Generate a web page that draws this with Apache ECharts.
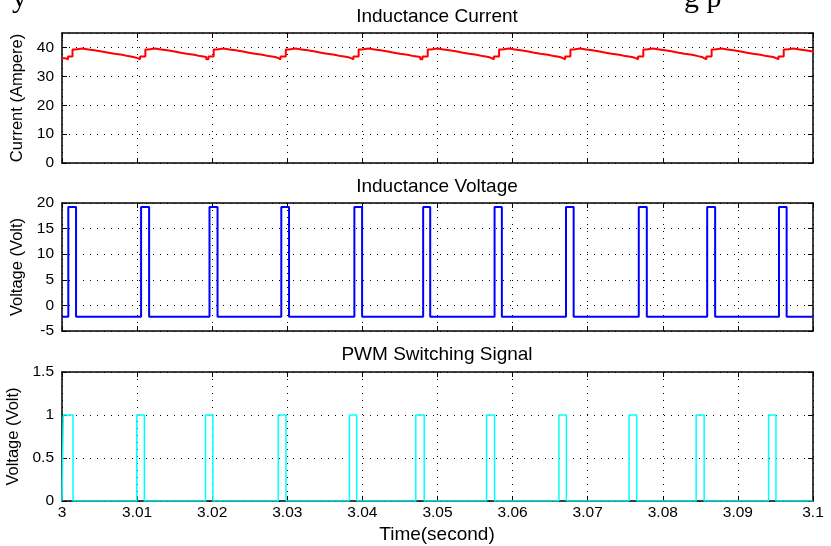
<!DOCTYPE html>
<html>
<head>
<meta charset="utf-8">
<script src="https://cdn.jsdelivr.net/npm/echarts@6/dist/echarts.min.js"></script>
<style>
html, body { margin: 0; padding: 0; background: #fff; }
#main { width: 831px; height: 546px; }
</style>
</head>
<body>
<div id="main"></div>
<script>
// time window (s)
const timeMin = 3.0, timeMax = 3.1, timeStep = 0.01

// inductance current, sampled staircase [time, ampere]
const currentData = [
    [3.0000, 36.3], [3.0004, 35.9], [3.0008, 36.9], [3.0014, 39.3], [3.0018, 39.6], [3.0027, 39.3], [3.0035, 39.0], [3.0043, 38.6], [3.0053, 38.2], [3.0062, 37.8], [3.0070, 37.5], [3.0080, 37.0], [3.0088, 36.7], [3.0095, 36.3],
    [3.0101, 35.9], [3.0104, 36.9], [3.0111, 39.3], [3.0115, 39.6], [3.0124, 39.3], [3.0132, 39.0], [3.0140, 38.6], [3.0150, 38.2], [3.0158, 37.8], [3.0166, 37.5], [3.0176, 37.0], [3.0184, 36.7],
    [3.0192, 35.9], [3.0195, 36.9], [3.0202, 39.3], [3.0206, 39.6], [3.0215, 39.3], [3.0223, 39.0], [3.0231, 38.6], [3.0241, 38.2], [3.0249, 37.8], [3.0257, 37.5], [3.0267, 37.0], [3.0275, 36.7], [3.0284, 36.3],
    [3.0288, 35.9], [3.0291, 36.9], [3.0298, 39.3], [3.0302, 39.6], [3.0311, 39.3], [3.0319, 39.0], [3.0327, 38.6], [3.0337, 38.2], [3.0345, 37.8], [3.0353, 37.5], [3.0363, 37.0], [3.0371, 36.7], [3.0380, 36.3],
    [3.0385, 35.9], [3.0388, 36.9], [3.0395, 39.3], [3.0399, 39.6], [3.0408, 39.3], [3.0416, 39.0], [3.0424, 38.6], [3.0434, 38.2], [3.0442, 37.8], [3.0450, 37.5], [3.0460, 37.0], [3.0468, 36.7],
    [3.0477, 35.9], [3.0480, 36.9], [3.0487, 39.3], [3.0491, 39.6], [3.0500, 39.3], [3.0508, 39.0], [3.0516, 38.6], [3.0526, 38.2], [3.0534, 37.8], [3.0542, 37.5], [3.0552, 37.0], [3.0560, 36.7], [3.0568, 36.3],
    [3.0572, 35.9], [3.0575, 36.9], [3.0582, 39.3], [3.0586, 39.6], [3.0595, 39.3], [3.0603, 39.0], [3.0611, 38.6], [3.0621, 38.2], [3.0629, 37.8], [3.0637, 37.5], [3.0647, 37.0], [3.0655, 36.7], [3.0663, 36.3],
    [3.0667, 35.9], [3.0670, 36.9], [3.0677, 39.3], [3.0681, 39.6], [3.0690, 39.3], [3.0698, 39.0], [3.0706, 38.6], [3.0716, 38.2], [3.0724, 37.8], [3.0732, 37.5], [3.0742, 37.0], [3.0750, 36.7], [3.0759, 36.3],
    [3.0764, 35.9], [3.0767, 36.9], [3.0774, 39.3], [3.0778, 39.6], [3.0787, 39.3], [3.0795, 39.0], [3.0803, 38.6], [3.0813, 38.2], [3.0821, 37.8], [3.0829, 37.5], [3.0839, 37.0], [3.0847, 36.7], [3.0852, 36.3],
    [3.0855, 35.9], [3.0858, 36.9], [3.0865, 39.3], [3.0869, 39.6], [3.0878, 39.3], [3.0886, 39.0], [3.0894, 38.6], [3.0904, 38.2], [3.0912, 37.8], [3.0920, 37.5], [3.0930, 37.0], [3.0938, 36.7], [3.0947, 36.3],
    [3.0951, 35.9], [3.0954, 36.9], [3.0961, 39.3], [3.0965, 39.6], [3.0974, 39.3], [3.0982, 39.0], [3.0990, 38.6], [3.1000, 38.2],
]

// inductance voltage pulses (s) and levels (V)
const voltOn  = [3.00084, 3.01053, 3.01964, 3.02920, 3.03893, 3.04809, 3.05760, 3.06711, 3.07680, 3.08591, 3.09547]
const voltOff = [3.00187, 3.01160, 3.02071, 3.03023, 3.03996, 3.04903, 3.05857, 3.06813, 3.07787, 3.08697, 3.09649]
const voltHigh = 19.2
const voltLow = -2.2

// PWM switching pulses (s) and levels
const pwmOn  = [3.00017, 3.00996, 3.01911, 3.02880, 3.03827, 3.04711, 3.05653, 3.06617, 3.07551, 3.08444, 3.09409]
const pwmOff = [3.00147, 3.01097, 3.02009, 3.02983, 3.03924, 3.04823, 3.05760, 3.06716, 3.07653, 3.08551, 3.09507]
const pwmHigh = 1
const pwmLow = 0

const titles = [ "Inductance Current", "Inductance Voltage", "PWM Switching Signal" ]
const yNames = [ "Current (Ampere)", "Voltage (Volt)", "Voltage (Volt)" ]
const yRanges = [ [0, 45, 10], [-5, 20, 5], [0, 1.5, 0.5] ]
const xName = "Time(second)"

function pulses(on, off, low, high) {
    let pts = [[timeMin, low]]
    for (let i = 0; i < on.length; i++) {
        pts.push([on[i], low], [on[i], high], [off[i], high], [off[i], low])
    }
    pts.push([timeMax, low])
    return pts
}

const font = "Liberation Sans, Arial, sans-serif"
const serif = "Liberation Serif, Times New Roman, serif"
const dotted = { color: "#000", width: 1, type: [1, 6] }
const grids = [
    { left: 62, right: 18, top: 33, height: 130, outerBoundsMode: "none" },
    { left: 62, right: 18, top: 203, height: 128, outerBoundsMode: "none" },
    { left: 62, right: 18, top: 372, height: 129, outerBoundsMode: "none" },
]

let xAxis = [], yAxis = []
for (let g = 0; g < 3; g++) {
    xAxis.push({
        type: "value", gridIndex: g, min: timeMin, max: timeMax, interval: timeStep,
        axisLine: { onZero: false, lineStyle: { color: "#000", width: 1.5 }},
        axisTick: { inside: true, length: 5, lineStyle: { color: "#000" }},
        axisLabel: {
            show: g == 2, color: "#000", fontFamily: font, fontSize: 15.5, margin: 4,
            formatter: v => String(Number(v.toFixed(2))),
        },
        splitLine: { show: true, lineStyle: dotted },
    })
    xAxis.push({
        type: "value", gridIndex: g, position: "top", min: timeMin, max: timeMax, interval: timeStep,
        axisLine: { onZero: false, lineStyle: { color: "#000", width: 1.5 }},
        axisTick: { inside: true, length: 5, lineStyle: { color: "#000" }},
        axisLabel: { show: false },
        splitLine: { show: false },
    })
    let r = yRanges[g]
    yAxis.push({
        type: "value", gridIndex: g, min: r[0], max: r[1], interval: r[2],
        name: yNames[g], nameLocation: "middle", nameGap: 29,
        nameTextStyle: { color: "#000", fontFamily: font, fontSize: 16.5 },
        axisLine: { show: true, onZero: false, lineStyle: { color: "#000", width: 1.5 }},
        axisTick: { show: true, inside: true, length: 5, lineStyle: { color: "#000" }},
        axisLabel: { color: "#000", fontFamily: font, fontSize: 15.5, margin: 8, showMaxLabel: g == 0 ? false : true },
        splitLine: { show: true, lineStyle: dotted },
    })
    yAxis.push({
        type: "value", gridIndex: g, position: "right", min: r[0], max: r[1], interval: r[2],
        axisLine: { show: true, onZero: false, lineStyle: { color: "#000", width: 1.5 }},
        axisTick: { show: true, inside: true, length: 5, lineStyle: { color: "#000" }},
        axisLabel: { show: false },
        splitLine: { show: false },
    })
}

const chart = echarts.init(document.getElementById("main"), null, { renderer: "canvas" })
chart.setOption({
    animation: false,
    backgroundColor: "#fff",
    grid: grids,
    xAxis: xAxis,
    yAxis: yAxis,
    graphic: [
        // tail of the document line above the figure
        { type: "text", x: 12, y: -16, style: { text: "y", fill: "#000", font: "30px " + serif }},
        { type: "text", x: 684, y: -16, style: { text: "g p", fill: "#000", font: "30px " + serif }},
        { type: "text", x: 437, y: 17, style: { text: titles[0], fill: "#000", font: "19px " + font, textAlign: "center", textVerticalAlign: "middle" }},
        { type: "text", x: 437, y: 187, style: { text: titles[1], fill: "#000", font: "19px " + font, textAlign: "center", textVerticalAlign: "middle" }},
        { type: "text", x: 437, y: 355, style: { text: titles[2], fill: "#000", font: "19px " + font, textAlign: "center", textVerticalAlign: "middle" }},
        { type: "text", x: 437, y: 535, style: { text: xName, fill: "#000", font: "19px " + font, textAlign: "center", textVerticalAlign: "middle" }},
    ],
    series: [
        {
            type: "line", xAxisIndex: 0, yAxisIndex: 0, step: "end", showSymbol: false, symbol: "none",
            data: currentData, lineStyle: { color: "#ff0000", width: 2 },
        },
        {
            type: "line", xAxisIndex: 2, yAxisIndex: 2, showSymbol: false, symbol: "none",
            data: pulses(voltOn, voltOff, voltLow, voltHigh), lineStyle: { color: "#0000ff", width: 2 },
        },
        {
            type: "line", xAxisIndex: 4, yAxisIndex: 4, showSymbol: false, symbol: "none",
            data: pulses(pwmOn, pwmOff, pwmLow, pwmHigh), lineStyle: { color: "#00ffff", width: 1.5 },
        },
    ],
})
</script>
</body>
</html>
